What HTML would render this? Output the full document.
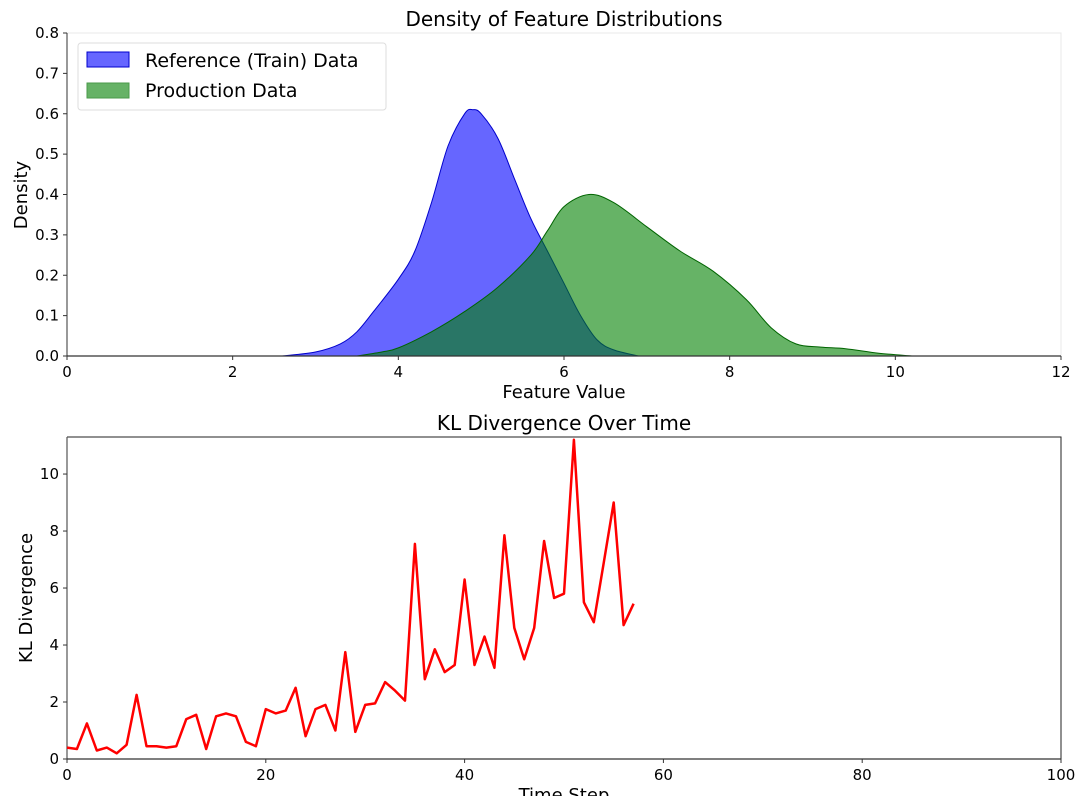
<!DOCTYPE html>
<html><head><meta charset="utf-8"><style>
body{margin:0;background:#fff;font-family:"Liberation Sans","DejaVu Sans",sans-serif;}
svg text{font-family:"DejaVu Sans","Liberation Sans",sans-serif;}
</style></head><body>
<svg id="c" width="1089" height="796" xmlns="http://www.w3.org/2000/svg">
<g id="topChart"></g>
<g id="botChart"></g>
</svg>
<script>
const refX=[2.6,3.0,3.3,3.5,3.7,4.0,4.2,4.4,4.6,4.8,4.9,5.0,5.2,5.4,5.6,5.8,6.0,6.2,6.4,6.6,6.9];
const refY=[0,0.01,0.03,0.06,0.11,0.19,0.26,0.38,0.52,0.60,0.61,0.60,0.54,0.44,0.34,0.26,0.18,0.10,0.04,0.015,0];
const prodX=[3.5,3.8,4.0,4.4,4.8,5.2,5.6,5.8,6.0,6.3,6.6,7.0,7.4,7.8,8.2,8.5,8.8,9.1,9.4,9.8,10.2];
const prodY=[0,0.01,0.02,0.06,0.11,0.17,0.25,0.31,0.37,0.40,0.38,0.32,0.26,0.21,0.14,0.07,0.03,0.022,0.018,0.007,0];
const densXTicks=[0,2,4,6,8,10,12];
const densYTicks=[0.0,0.1,0.2,0.3,0.4,0.5,0.6,0.7,0.8];
const klValues=[0.4,0.35,1.25,0.3,0.4,0.2,0.5,2.25,0.45,0.45,0.4,0.45,1.4,1.55,0.35,1.5,1.6,1.5,0.6,0.45,1.75,1.6,1.7,2.5,0.8,1.75,1.9,1.0,3.75,0.95,1.9,1.95,2.7,2.4,2.05,7.55,2.8,3.85,3.05,3.3,6.3,3.3,4.3,3.2,7.85,4.6,3.5,4.6,7.65,5.65,5.8,11.2,5.5,4.8,6.9,9.0,4.7,5.45];
const klXTicks=[0,20,40,60,80,100];
const klYTicks=[0,2,4,6,8,10];

const NS="http://www.w3.org/2000/svg";
function mk(p,tag,attrs,txt){const e=document.createElementNS(NS,tag);for(const k in attrs)e.setAttribute(k,attrs[k]);if(txt!==undefined)e.textContent=txt;p.appendChild(e);return e;}
const PL=67,PR=1061;
const gTop=document.getElementById('topChart');
const tT=33,tB=356;
const tx=v=>PL+(v/12)*(PR-PL), ty=v=>tB-(v/0.8)*(tB-tT);
function smoothPath(P){
  let d='M'+P[0][0].toFixed(1)+','+P[0][1].toFixed(1);
  for(let i=0;i<P.length-1;i++){
    const p0=P[Math.max(0,i-1)],p1=P[i],p2=P[i+1],p3=P[Math.min(P.length-1,i+2)];
    let c1y=p1[1]+(p2[1]-p0[1])/6, c2y=p2[1]-(p3[1]-p1[1])/6;
    c1y=Math.min(c1y,tB); c2y=Math.min(c2y,tB);
    const c1x=p1[0]+(p2[0]-p0[0])/6, c2x=p2[0]-(p3[0]-p1[0])/6;
    d+=` C${c1x.toFixed(1)},${c1y.toFixed(1)} ${c2x.toFixed(1)},${c2y.toFixed(1)} ${p2[0].toFixed(1)},${p2[1].toFixed(1)}`;
  }
  return d;
}
function area(xs,ys,fill,stroke,name){
  const P=xs.map((x,i)=>[tx(x),ty(ys[i])]);
  const d=smoothPath(P)+' Z';
  const p=mk(gTop,'path',{d:d,fill:fill,'fill-opacity':0.6,stroke:stroke,'stroke-width':1,'stroke-linejoin':'round'});
  
  
}
area(refX,refY,'#0000ff','#0000cc','reference-density-area');
area(prodX,prodY,'#008000','#006400','production-density-area');
mk(gTop,'path',{d:`M${PL},${tT} H${PR} V${tB}`,fill:'none',stroke:'#e8e8e8','stroke-width':1});
mk(gTop,'line',{x1:PL,y1:tT,x2:PL,y2:tB,stroke:'#555','stroke-width':1.2});
mk(gTop,'line',{x1:PL,y1:tB,x2:PR,y2:tB,stroke:'#333','stroke-width':1.2});
densXTicks.forEach(v=>{const x=tx(v);mk(gTop,'line',{x1:x,y1:tB,x2:x,y2:tB+4,stroke:'#333'});
  const t=mk(gTop,'text',{x:x,y:tB+21,'text-anchor':'middle','font-size':15},String(v));
  
  });
densYTicks.forEach(v=>{const y=ty(v);mk(gTop,'line',{x1:PL-4,y1:y,x2:PL,y2:y,stroke:'#333'});
  const t=mk(gTop,'text',{x:PL-8,y:y+5,'text-anchor':'end','font-size':15},v.toFixed(1));
  
  });
const t1=mk(gTop,'text',{x:564,y:26,'text-anchor':'middle','font-size':20},'Density of Feature Distributions');


const t2=mk(gTop,'text',{x:564,y:398,'text-anchor':'middle','font-size':18},'Feature Value');


const t3=mk(gTop,'text',{x:0,y:0,'text-anchor':'middle','font-size':18,transform:`translate(27,195) rotate(-90)`},'Density');


const lg=mk(gTop,'g',{});


mk(lg,'rect',{x:78,y:43,width:308,height:67,rx:3,fill:'#fff',stroke:'#ddd'});
mk(lg,'rect',{x:87,y:52,width:42,height:15,fill:'#6666ff',stroke:'#0000cc'});
mk(lg,'rect',{x:87,y:83,width:42,height:15,fill:'#66b266',stroke:'#4a9a4a'});
const le1=mk(lg,'text',{x:145,y:67,'font-size':19},'Reference (Train) Data');


const le2=mk(lg,'text',{x:145,y:97,'font-size':19},'Production Data');



const gBot=document.getElementById('botChart');
const bT=437,bB=759,bMax=11.3;
const bx=v=>PL+(v/100)*(PR-PL), by=v=>bB-(v/bMax)*(bB-bT);
mk(gBot,'path',{d:`M${PL},${bT} H${PR} V${bB}`,fill:'none',stroke:'#222','stroke-width':1});
mk(gBot,'line',{x1:PL,y1:bT,x2:PL,y2:bB,stroke:'#555','stroke-width':1.2});
mk(gBot,'line',{x1:PL,y1:bB,x2:PR,y2:bB,stroke:'#333','stroke-width':1.2});
const pts=klValues.map((v,i)=>bx(i).toFixed(1)+','+by(v).toFixed(1)).join(' ');
const ln=mk(gBot,'polyline',{points:pts,fill:'none',stroke:'#ff0000','stroke-width':2.5,'stroke-linejoin':'round'});


klXTicks.forEach(v=>{const x=bx(v);mk(gBot,'line',{x1:x,y1:bB,x2:x,y2:bB+4,stroke:'#333'});
  const t=mk(gBot,'text',{x:x,y:bB+21,'text-anchor':'middle','font-size':15},String(v));
  
  });
klYTicks.forEach(v=>{const y=by(v);mk(gBot,'line',{x1:PL-4,y1:y,x2:PL,y2:y,stroke:'#333'});
  const t=mk(gBot,'text',{x:PL-8,y:y+5,'text-anchor':'end','font-size':15},String(v));
  
  });
const b1=mk(gBot,'text',{x:564,y:430,'text-anchor':'middle','font-size':20},'KL Divergence Over Time');


const b2=mk(gBot,'text',{x:564,y:801,'text-anchor':'middle','font-size':18},'Time Step');


const b3=mk(gBot,'text',{x:0,y:0,'text-anchor':'middle','font-size':18,transform:`translate(32,598) rotate(-90)`},'KL Divergence');


</script>
</body></html>
